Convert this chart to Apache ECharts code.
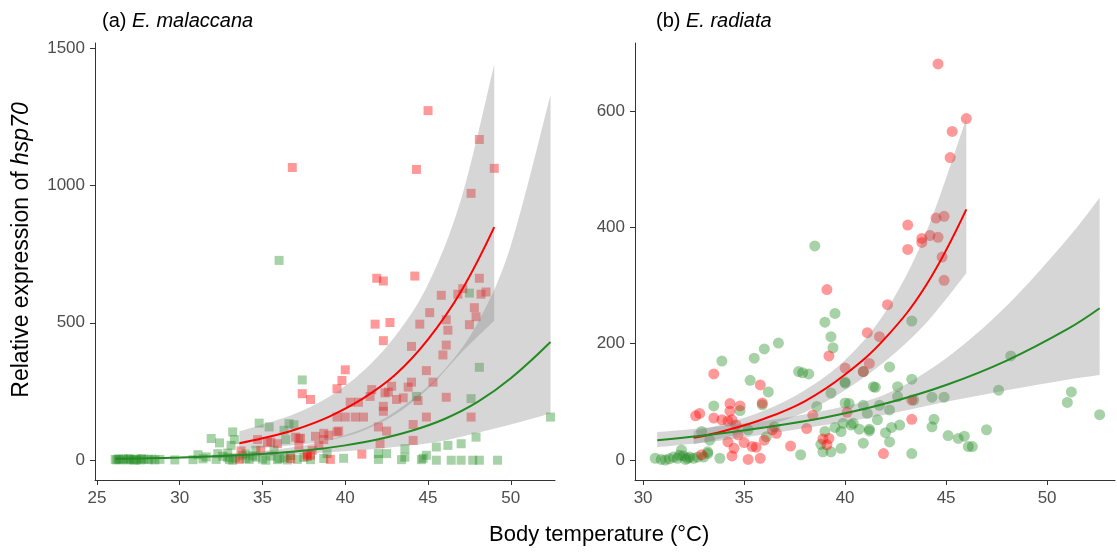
<!DOCTYPE html>
<html>
<head>
<meta charset="utf-8">
<script src="https://cdn.jsdelivr.net/npm/echarts@6/dist/echarts.min.js"></script>
<style>
  html, body { margin: 0; padding: 0; background: #fff; }
  #chart { width: 1117px; height: 554px; }
</style>
</head>
<body>
<div id="chart"></div>
<script>
// ---- data ----
// (a) E. malaccana, squares
var malRed = [
  [36.8,1065],[45.0,1272],[48.1,1167],[49.0,1062],[44.3,1058],[47.6,971],
  [41.9,662],[42.3,652],[44.2,670],[45.8,600],[46.8,604],[47.1,624],[48.1,662],[48.2,604],[48.5,612],
  [47.8,555],[47.9,522],[47.5,493],[45.1,537],[44.5,495],[46.1,511],[46.2,473],[41.8,495],[42.7,501],
  [42.3,435],[44.0,414],[46.1,419],[45.9,383],[44.9,326],[45.3,284],[40.0,329],[39.8,290],[39.5,260],
  [37.4,242],[37.9,221],[41.6,257],[42.8,269],[42.4,245],[42.6,248],[43.8,266],[44.0,284],[44.4,217],
  [43.1,221],[43.5,227],[46.1,229],[40.3,211],[40.8,211],[41.5,232],[42.3,196],[42.3,178],[44.9,157],
  [47.6,157],[39.5,157],[40.0,157],[41.1,157],[40.6,157],[42.0,121],[42.5,106],[44.1,130],[44.1,72],
  [42.1,60],[41.0,22],[39.1,3],[39.6,106],[39.0,91],[38.7,75],[38.2,87],[38.4,54],[38.0,36],[37.7,22],
  [37.9,18],[37.2,79],[37.2,54],[36.7,6],[35.9,60],[35.5,66],[34.7,75],[34.9,36],[33.6,3],[33.7,34],
  [37.3,80],[35.3,66],[37.0,84],[38.7,98],[39.5,103],[37.7,14]
];
var malGreen = [
  [26.1,3],[26.2,1],[26.4,2],[26.6,4],[26.8,1],[27.0,3],[27.2,2],[27.4,4],[27.6,1],[27.8,3],[28.1,2],
  [28.3,4],[28.5,1],[28.8,3],[29.7,1],[26.3,5],[26.9,6],[27.3,0],[27.7,6],
  [31.4,5],[31.6,12],[32.2,3],[32.6,14],[33.0,2],[33.4,8],[33.8,18],[34.2,3],[34.6,11],[35.0,4],
  [35.5,15],[35.9,2],[36.3,9],[36.7,17],[37.1,3],[37.5,10],[37.9,2],[38.7,6],[33.2,0],[34.0,6],
  [35.2,0],[36.0,6],[32.9,9],[34.4,16],[36.5,1],[31.1,20],[30.8,2],
  [39.9,7],[42.0,3],[43.6,11],[44.7,7],[45.5,0],[46.4,0],[47.0,0],[47.7,0],[48.1,0],[49.2,0],[43.4,2],[44.6,2],
  [45.5,48],[46.2,54],[47.0,60],[47.9,84],[43.6,42],[42.5,24],[42.0,24],[38.9,24],[44.9,18],
  [47.6,224],[52.4,157],[48.1,338],[47.5,608],[36.0,727],[37.4,292],[44.3,232],
  [31.9,79],[32.4,63],[33.2,103],[33.3,75],[33.1,54],[34.8,135],[35.4,121],[36.3,109],[36.6,133],
  [36.9,129],[36.4,75],[34.6,36],[35.7,36],[32.3,24],[32.9,26],[34.0,24]
];
// fitted curves and confidence bands, (a)
var malRedFitX   = [33.6, 35, 37, 39, 41, 43, 45, 47, 49];
var malRedFit    = [62, 80, 112, 158, 222, 310, 440, 615, 848];
var malRedUpper  = [105, 130, 170, 230, 320, 450, 640, 950, 1440];
var malRedLower  = [38, 45, 55, 72, 105, 165, 260, 390, 507];
var malGreenFitX  = [26.1, 28, 30, 32, 34, 36, 38, 40, 42, 44, 46, 48, 50, 52.4];
var malGreenFit   = [5, 7, 10, 14, 19.5, 27, 38, 54, 76, 107, 150, 212, 298, 430];
var malGreenUpper = [6, 9, 12, 18, 27, 40, 60, 92, 140, 220, 330, 500, 780, 1330];
var malGreenLower = [3, 4.5, 6, 9, 12, 17, 25, 33, 42, 54, 72, 100, 130, 170];

// (b) E. radiata, circles
var radRed = [
  [44.6,681],[46.0,587],[45.3,565],[45.2,520],[43.1,404],[44.5,416],[44.9,419],[44.2,386],[44.6,383],
  [43.8,381],[43.8,374],[43.1,362],[44.8,349],[44.9,309],[39.1,293],[42.1,267],[41.7,212],[43.3,103],
  [43.3,70],[41.9,11],[39.2,179],[41.1,219],[40.0,158],[41.2,166],[33.5,148],[35.8,129],[32.6,76],
  [32.8,80],[34.3,97],[34.3,84],[34.8,93],[35.9,98],[33.9,69],[33.5,72],[34.2,67],[34.4,69],[34.6,60],
  [34.7,43],[34.2,31],[35.0,30],[35.4,23],[35.6,22],[36.0,34],[34.5,20],[34.4,7],[35.2,1],[35.8,3],
  [32.9,9],[36.6,46],[36.4,52],[37.3,24],[38.1,54],[38.4,77],[38.9,36],[39.2,37],[39.1,26],[40.1,82],
  [40.9,152]
];
var radGreen = [
  [38.5,368],[39.0,237],[39.5,252],[39.3,212],[39.4,193],[36.7,201],[36.0,191],[35.5,175],[33.9,170],
  [40.9,152],[37.7,152],[37.9,150],[38.2,148],[35.3,137],[36.2,117],[33.5,93],[34.8,85],[35.9,95],
  [32.9,49],[33.3,34],[36.5,57],[35.2,52],[36.1,40],[37.8,9],[38.6,92],[39.3,115],[40.0,132],[39.0,49],
  [38.8,27],[38.9,14],[39.3,14],[39.8,20],[39.5,56],[39.8,49],[39.9,63],[40.3,60],[40.7,53],[40.9,29],
  [41.2,50],[41.6,69],[40.2,97],[30.6,3],[30.9,1],[31.1,0],[31.5,5],[31.7,3],[31.9,17],[32.0,7],
  [32.2,3],[32.3,5],[32.5,3],[32.7,5],[33.2,14],[33.2,11],[33.8,3],[33.0,5],[31.3,2],[31.8,8],[32.1,1],
  [43.3,239],[42.2,160],[43.3,139],[42.6,126],[42.6,109],[43.4,103],[42.2,86],[41.7,94],[44.3,108],
  [44.9,108],[47.6,120],[48.2,179],[51.2,117],[51.0,99],[52.6,78],[44.4,70],[44.3,57],[42.7,60],
  [42.3,56],[42.0,47],[42.2,31],[45.1,42],[45.6,37],[45.9,41],[46.1,23],[46.3,23],[47.0,52],[43.3,11],
  [41.5,125],[40.9,94],[41.1,80],[40.4,63],[41.2,53],[40.0,134],[40.0,98],[41.4,126]
];
var radRedFitX  = [32.5, 34, 36, 38, 40, 42, 44, 46];
var radRedFit   = [38, 50, 71, 101, 147, 210, 300, 431];
var radRedUpper = [50, 62, 85, 120, 172, 255, 390, 587];
var radRedLower = [27, 38, 57, 82, 120, 170, 235, 321];
var radGreenFitX  = [30.7, 33, 36, 39, 42, 45, 48, 51, 52.6];
var radGreenFit   = [34, 42, 56, 73, 97, 129, 171, 225, 261];
var radGreenUpper = [48, 55, 67, 85, 113, 175, 265, 380, 451];
var radGreenLower = [22, 30, 44, 60, 78, 100, 120, 138, 146];

var malXTicks = [25, 30, 35, 40, 45, 50];
var malYTicks = [0, 500, 1000, 1500];
var radXTicks = [30, 35, 40, 45, 50];
var radYTicks = [0, 200, 400, 600];

// ---- style ----
var RED_PT = 'rgba(255,0,0,0.5)';
var GREEN_PT = 'rgba(34,139,34,0.5)';
var RED_LINE = '#ff0000';
var GREEN_LINE = '#228b22';
var BAND = 'rgba(128,128,128,0.32)';
var AXIS = '#333333';
var LABEL = '#4d4d4d';
var FONT = 'Liberation Sans, Arial, sans-serif';

function zip(xs, ys) {
  return xs.map(function (x, i) { return [x, ys[i]]; });
}

function plain(v) { return String(v); }

function xAxisOf(grid, min, max, ticks) {
  return {
    gridIndex: grid, type: 'value', min: min, max: max,
    axisLine: { onZero: false, lineStyle: { color: AXIS, width: 1 } },
    axisTick: { length: 5, lineStyle: { color: AXIS }, customValues: ticks },
    axisLabel: { color: LABEL, fontSize: 17, fontFamily: FONT, margin: 10, customValues: ticks, formatter: plain },
    splitLine: { show: false }
  };
}

function yAxisOf(grid, min, max, ticks) {
  return {
    gridIndex: grid, type: 'value', min: min, max: max,
    axisLine: { show: true, onZero: false, lineStyle: { color: AXIS, width: 1 } },
    axisTick: { show: true, length: 5, lineStyle: { color: AXIS }, customValues: ticks },
    axisLabel: { color: LABEL, fontSize: 17, fontFamily: FONT, margin: 10, customValues: ticks, formatter: plain },
    splitLine: { show: false }
  };
}

// smooth path through screen points (Catmull-Rom as cubic Beziers)
function curvePath(pts, startCmd) {
  var d = startCmd + pts[0][0] + ' ' + pts[0][1];
  for (var i = 0; i < pts.length - 1; i++) {
    var p0 = pts[Math.max(i - 1, 0)], p1 = pts[i], p2 = pts[i + 1];
    var p3 = pts[Math.min(i + 2, pts.length - 1)];
    var c1x = p1[0] + (p2[0] - p0[0]) / 6, c1y = p1[1] + (p2[1] - p0[1]) / 6;
    var c2x = p2[0] - (p3[0] - p1[0]) / 6, c2y = p2[1] - (p3[1] - p1[1]) / 6;
    d += ' C' + c1x + ' ' + c1y + ' ' + c2x + ' ' + c2y + ' ' + p2[0] + ' ' + p2[1];
  }
  return d;
}

// confidence band drawn as one filled shape through the axis scales
function band(idx, xs, lower, upper) {
  return {
    type: 'custom', xAxisIndex: idx, yAxisIndex: idx, silent: true, z: 2,
    data: [[xs[0], lower[0]]],
    renderItem: function (params, api) {
      var up = xs.map(function (x, i) { return api.coord([x, upper[i]]); });
      var lo = xs.map(function (x, i) { return api.coord([x, lower[i]]); }).reverse();
      var d = curvePath(up, 'M') + ' ' + curvePath(lo, 'L') + ' Z';
      return {
        type: 'path',
        shape: { pathData: d },
        style: { fill: BAND, stroke: null }
      };
    }
  };
}

function fitLine(idx, xs, ys, color) {
  return {
    type: 'line', xAxisIndex: idx, yAxisIndex: idx, smooth: 0.4,
    data: zip(xs, ys), symbol: 'none', silent: true, z: 3,
    lineStyle: { color: color, width: 2 }
  };
}

function points(idx, data, color, symbol, size) {
  return {
    type: 'scatter', xAxisIndex: idx, yAxisIndex: idx, data: data,
    symbol: symbol, symbolSize: size, z: 1, silent: true,
    itemStyle: { color: color }
  };
}

var myChart = echarts.init(document.getElementById('chart'), null, { renderer: 'canvas' });

var series = [
  points(0, malGreen, GREEN_PT, 'rect', 9), points(0, malRed, RED_PT, 'rect', 9),
  band(0, malRedFitX, malRedLower, malRedUpper),
  band(0, malGreenFitX, malGreenLower, malGreenUpper),
  fitLine(0, malRedFitX, malRedFit, RED_LINE), fitLine(0, malGreenFitX, malGreenFit, GREEN_LINE),
  points(1, radGreen, GREEN_PT, 'circle', 11), points(1, radRed, RED_PT, 'circle', 11),
  band(1, radRedFitX, radRedLower, radRedUpper),
  band(1, radGreenFitX, radGreenLower, radGreenUpper),
  fitLine(1, radRedFitX, radRedFit, RED_LINE), fitLine(1, radGreenFitX, radGreenFit, GREEN_LINE)
];

var titleRich = {
  n: { color: '#000', fontSize: 20, fontFamily: FONT, fontWeight: 'normal' },
  i: { color: '#000', fontSize: 20, fontFamily: FONT, fontWeight: 'normal', fontStyle: 'italic' }
};

var option = {
  animation: false,
  backgroundColor: '#fff',
  title: [{
    left: 97, top: 6,
    text: '{n|(a) }{i|E. malaccana}',
    textStyle: { fontWeight: 'normal', rich: titleRich }
  }, {
    left: 651, top: 6,
    text: '{n|(b) }{i|E. radiata}',
    textStyle: { fontWeight: 'normal', rich: titleRich }
  }],
  graphic: [{
    type: 'text', left: 489, top: 524,
    style: { text: 'Body temperature (°C)', fill: '#000', font: '22px ' + FONT }
  }, {
    // y-axis title, rotated
    type: 'text', x: 22, y: 250, rotation: Math.PI / 2,
    style: {
      text: '{n|Relative expression of }{i|hsp70}',
      align: 'center', verticalAlign: 'middle',
      rich: {
        n: { fill: '#000', fontSize: 23, fontFamily: FONT },
        i: { fill: '#000', fontSize: 23, fontFamily: FONT, fontStyle: 'italic' }
      }
    }
  }],
  grid: [
    { left: 95, top: 43, width: 460, height: 437 },
    { left: 635, top: 43, width: 480, height: 437 }
  ],
  xAxis: [
    xAxisOf(0, 24.88, 52.67, malXTicks),
    xAxisOf(1, 29.6, 53.36, radXTicks)
  ],
  yAxis: [
    yAxisOf(0, -72, 1518, malYTicks),
    yAxisOf(1, -34.4, 717, radYTicks)
  ],
  series: series
};

if (option && typeof option === 'object') {
  myChart.setOption(option);
}
</script>
</body>
</html>
